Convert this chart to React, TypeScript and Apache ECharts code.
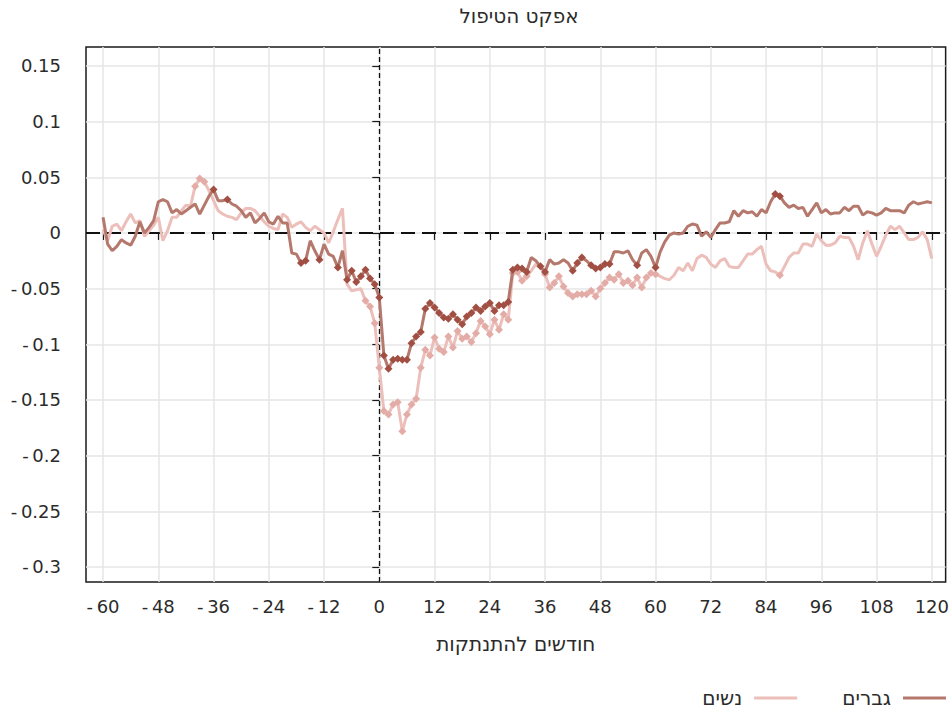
import React, { useEffect, useRef } from "react";
import * as echarts from "echarts";

const titleText = "אפקט הטיפול";
const xAxisName = "חודשים להתנתקות";
const menName = "גברים";
const womenName = "נשים";

const monthStart = -60;

const xTicks = [-60, -48, -36, -24, -12, 0, 12, 24, 36, 48, 60, 72, 84, 96, 108, 120];
const yTicks = [-0.3, -0.25, -0.2, -0.15, -0.1, -0.05, 0, 0.05, 0.1, 0.15];

// months -60 .. 120
const menEffect = [
  0.014, -0.010, -0.016, -0.012, -0.006, -0.009, -0.011, -0.003, 0.010, 0.000,
  0.005, 0.011, 0.028, 0.030, 0.028, 0.018, 0.021, 0.017, 0.020, 0.023,
  0.026, 0.017, 0.025, 0.033, 0.039, 0.029, 0.029, 0.030, 0.026, 0.024,
  0.020, 0.014, 0.018, 0.009, 0.013, 0.018, 0.010, 0.008, 0.015, 0.009,
  0.009, -0.018, -0.019, -0.027, -0.025, -0.007, -0.016, -0.024, -0.010, -0.019,
  -0.021, -0.031, -0.016, -0.042, -0.034, -0.044, -0.039, -0.033, -0.041, -0.046,
  -0.058, -0.110, -0.122, -0.114, -0.113, -0.114, -0.114, -0.099, -0.093, -0.089,
  -0.068, -0.063, -0.067, -0.072, -0.076, -0.077, -0.073, -0.078, -0.082, -0.075,
  -0.072, -0.067, -0.070, -0.066, -0.063, -0.070, -0.065, -0.065, -0.062, -0.033,
  -0.031, -0.032, -0.035, -0.022, -0.025, -0.030, -0.035, -0.024, -0.028, -0.027,
  -0.024, -0.027, -0.034, -0.027, -0.022, -0.025, -0.029, -0.032, -0.031, -0.028,
  -0.028, -0.017, -0.017, -0.018, -0.016, -0.024, -0.029, -0.018, -0.015, -0.021,
  -0.031, -0.017, -0.008, -0.002, 0.000, -0.001, 0.000, 0.006, 0.008, 0.007,
  -0.003, 0.001, -0.004, 0.003, 0.009, 0.009, 0.010, 0.020, 0.015, 0.020,
  0.018, 0.019, 0.015, 0.021, 0.018, 0.028, 0.035, 0.033, 0.027, 0.023,
  0.025, 0.022, 0.023, 0.015, 0.021, 0.027, 0.018, 0.021, 0.017, 0.018,
  0.018, 0.023, 0.020, 0.024, 0.024, 0.016, 0.019, 0.018, 0.016, 0.018,
  0.022, 0.020, 0.020, 0.020, 0.018, 0.025, 0.028, 0.026, 0.027, 0.028,
  0.027,
];

const womenEffect = [
  0.003, -0.007, 0.006, 0.008, 0.002, 0.010, 0.017, 0.009, 0.011, -0.003,
  0.002, 0.007, 0.014, -0.007, 0.002, 0.014, 0.014, 0.020, 0.025, 0.024,
  0.042, 0.049, 0.046, 0.038, 0.029, 0.020, 0.017, 0.015, 0.014, 0.012,
  0.018, 0.022, 0.022, 0.020, 0.015, 0.010, 0.006, 0.004, 0.003, 0.017,
  0.014, 0.005, 0.008, 0.010, 0.005, 0.002, 0.006, 0.003, 0.000, -0.009,
  0.001, 0.012, 0.022, -0.046, -0.052, -0.051, -0.050, -0.061, -0.066, -0.081,
  -0.121, -0.160, -0.163, -0.154, -0.152, -0.178, -0.163, -0.154, -0.149, -0.121,
  -0.105, -0.110, -0.094, -0.104, -0.107, -0.093, -0.103, -0.088, -0.095, -0.093,
  -0.098, -0.090, -0.079, -0.084, -0.091, -0.078, -0.087, -0.073, -0.078, -0.036,
  -0.035, -0.043, -0.039, -0.034, -0.028, -0.031, -0.037, -0.049, -0.045, -0.039,
  -0.048, -0.054, -0.057, -0.055, -0.055, -0.055, -0.052, -0.057, -0.050, -0.045,
  -0.040, -0.042, -0.037, -0.045, -0.043, -0.047, -0.040, -0.049, -0.040, -0.036,
  -0.037, -0.039, -0.041, -0.042, -0.038, -0.031, -0.034, -0.027, -0.034, -0.023,
  -0.020, -0.022, -0.028, -0.031, -0.025, -0.023, -0.030, -0.031, -0.031, -0.025,
  -0.019, -0.019, -0.015, -0.012, -0.028, -0.034, -0.035, -0.038, -0.030, -0.022,
  -0.018, -0.018, -0.010, -0.010, -0.012, -0.001, -0.007, -0.011, -0.011, -0.009,
  -0.003, -0.004, -0.004, -0.012, -0.024, -0.009, 0.002, -0.010, -0.021, -0.012,
  -0.002, 0.006, 0.003, 0.006, 0.000, -0.006, -0.006, -0.004, 0.001, -0.006,
  -0.023,
];

// months where the effect is marked (significant)
const menMarked = [
  -36, -33, -17, -16, -13, -9, -7, -6, -5, -4, -3, -2, -1,
  0, 1, 2, 3, 4, 5, 6, 7, 8, 9, 10, 11, 12, 13, 14, 15, 16, 17, 18, 19, 20,
  21, 22, 23, 24, 25, 26, 27, 28, 29, 30, 31, 32, 35, 36, 42, 43, 44,
  46, 47, 48, 49, 50, 56, 60, 86, 87,
];
const womenMarked = [
  -40, -39, -38, -3, -2, -1,
  0, 1, 2, 3, 4, 5, 6, 7, 8, 9, 10, 11, 12, 13, 14, 15, 16, 17, 18, 19, 20,
  21, 22, 23, 24, 25, 26, 27, 28, 29, 30, 31, 32, 36, 37, 38, 39, 40, 41,
  42, 43, 44, 45, 46, 47, 48, 49, 50, 51, 52, 53, 54, 55, 56, 57, 58, 59, 60, 87,
];

const MEN_LINE = "#b5786c";
const MEN_MARK = "#a24f43";
const WOMEN_LINE = "#ecbfbb";
const WOMEN_MARK = "#e3aca7";

const FONT = "'DejaVu Sans', sans-serif";
const TEXT = "#2b2b2b";

function buildData(values: number[], marked: number[]) {
  const set = new Set(marked);
  return values.map((v, i) => {
    const m = monthStart + i;
    return set.has(m)
      ? { value: [m, v], symbol: "diamond" }
      : { value: [m, v], symbol: "none" };
  });
}

function fmtNum(v: number) {
  const r = Math.round(v * 100) / 100;
  const s = String(Math.abs(r));
  return r < 0 ? "-\u2009" + s : s;
}

export default function App() {
  const ref = useRef<HTMLDivElement>(null);

  useEffect(() => {
    if (!ref.current) return;
    const chart = echarts.init(ref.current, undefined, { renderer: "svg" });
    const option: any = {
      animation: false,
      backgroundColor: "#ffffff",
      textStyle: { fontFamily: FONT },
      grid: {
        left: 86,
        right: 6,
        top: 47,
        bottom: 128,
        show: true,
        borderColor: "#1a1a1a",
        borderWidth: 1.5,
        containLabel: false,
      },
      graphic: [
        {
          type: "text",
          x: 519,
          y: 16,
          style: {
            text: titleText,
            fontFamily: FONT,
            fontSize: 20,
            fill: TEXT,
            textAlign: "center",
            textVerticalAlign: "middle",
          },
        },
      ],
      legend: {
        right: 6,
        top: 688,
        padding: 0,
        align: "right",
        itemWidth: 43,
        itemHeight: 3,
        itemGap: 45,
        textStyle: { fontFamily: FONT, fontSize: 20, color: TEXT, padding: [0, 7, 0, 0] },
        data: [
          { name: womenName, icon: "rect", itemStyle: { color: WOMEN_LINE } },
          { name: menName, icon: "rect", itemStyle: { color: MEN_LINE } },
        ],
      },
      xAxis: {
        type: "value",
        min: -63.7,
        max: 123.0,
        name: xAxisName,
        nameLocation: "middle",
        nameGap: 52,
        nameTextStyle: { fontFamily: FONT, fontSize: 20, color: TEXT },
        axisLine: { show: false },
        axisTick: {
          show: true,
          length: 7,
          lineStyle: { color: "#1a1a1a", width: 1.2 },
          customValues: xTicks,
        },
        axisLabel: {
          customValues: xTicks,
          margin: 15,
          fontFamily: FONT,
          fontSize: 18,
          color: TEXT,
          formatter: (v: number) => (v < 0 ? "-\u2009" + Math.abs(v) : String(v)),
        },
        splitLine: { show: true, lineStyle: { color: "#e6e6e6", width: 1.5 } },
      },
      yAxis: {
        type: "value",
        min: -0.3135,
        max: 0.167,
        axisLine: { show: false },
        axisTick: {
          show: true,
          length: 7,
          lineStyle: { color: "#1a1a1a", width: 1.2 },
          customValues: yTicks,
        },
        axisLabel: {
          customValues: yTicks,
          margin: 25,
          fontFamily: FONT,
          fontSize: 18,
          color: TEXT,
          formatter: (v: number) => fmtNum(v),
        },
        splitLine: { show: true, lineStyle: { color: "#e6e6e6", width: 1.5 } },
      },
      series: [
        {
          name: womenName,
          type: "line",
          data: buildData(womenEffect, womenMarked),
          symbol: "none",
          symbolSize: 8,
          showSymbol: true,
          lineStyle: { color: WOMEN_LINE, width: 3 },
          itemStyle: { color: WOMEN_MARK },
          z: 3,
        },
        {
          name: menName,
          type: "line",
          data: buildData(menEffect, menMarked),
          symbol: "none",
          symbolSize: 8,
          showSymbol: true,
          lineStyle: { color: MEN_LINE, width: 3 },
          itemStyle: { color: MEN_MARK },
          z: 4,
          markLine: {
            silent: true,
            symbol: ["none", "none"],
            label: { show: false },
            z: 2,
            data: [
              { yAxis: 0, lineStyle: { color: "#111111", width: 2, type: [14, 7] } },
              { xAxis: 0, lineStyle: { color: "#111111", width: 1.3, type: [5, 3] } },
            ],
          },
        },
      ],
    };
    chart.setOption(option);
    return () => chart.dispose();
  }, []);

  return (
    <div
      ref={ref}
      style={{ position: "fixed", left: 0, top: 0, width: 952, height: 710 }}
    />
  );
}
